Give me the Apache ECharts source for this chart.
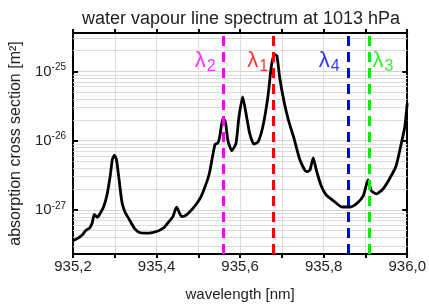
<!DOCTYPE html>
<html>
<head>
<meta charset="utf-8">
<script src="https://cdn.jsdelivr.net/npm/echarts@6/dist/echarts.min.js"></script>
<style>
    html, body {margin: 0; padding: 0; background: #fff;}
    #chartDIV {width: 429px; height: 307px;}
</style>
</head>
<body>
<div id="chartDIV"></div>
<script>
// wavelength [nm]
var wavelengths = [
    935.200, 935.212, 935.223, 935.230, 935.240, 935.246, 935.251, 935.258, 935.265, 935.273,
    935.281, 935.289, 935.294, 935.299, 935.304, 935.310, 935.317, 935.324, 935.335, 935.347,
    935.359, 935.374, 935.390, 935.405, 935.417, 935.429, 935.439, 935.448, 935.460, 935.471,
    935.487, 935.503, 935.514, 935.526, 935.534, 935.540, 935.547, 935.551, 935.559, 935.565,
    935.571, 935.580, 935.590, 935.597, 935.606, 935.615, 935.623, 935.633, 935.643, 935.654,
    935.666, 935.675, 935.682, 935.688, 935.695, 935.705, 935.716, 935.728, 935.743, 935.759,
    935.767, 935.775, 935.782, 935.794, 935.806, 935.825, 935.844, 935.864, 935.879, 935.895,
    935.906, 935.914, 935.926, 935.942, 935.957, 935.973, 935.984, 935.994, 936.000
];
// absorption cross section [m^2]
var crossSection = [
    3.6e-28, 3.9e-28, 4.4e-28, 5.0e-28, 5.5e-28, 6.5e-28, 8.6e-28, 7.8e-28, 8.9e-28, 1.10e-27,
    1.61e-27, 3.1e-27, 5.3e-27, 6.2e-27, 5.3e-27, 2.8e-27, 1.30e-27, 9.4e-28, 7.2e-28, 5.4e-28,
    4.7e-28, 4.6e-28, 4.7e-28, 5.0e-28, 5.5e-28, 6.7e-28, 8.0e-28, 1.09e-27, 8.0e-28, 8.4e-28,
    1.05e-27, 1.42e-27, 2.0e-27, 3.3e-27, 5.9e-27, 8.8e-27, 9.3e-27, 1.13e-26, 2.14e-26, 1.83e-26,
    9.9e-27, 7.2e-27, 9.1e-27, 2.16e-26, 4.3e-26, 2.3e-26, 1.26e-26, 8.9e-27, 9.6e-27, 1.56e-26,
    4.1e-26, 1.22e-25, 1.77e-25, 1.68e-25, 7.9e-26, 3.7e-26, 1.94e-26, 1.13e-26, 5.3e-27, 3.56e-27,
    3.74e-27, 5.65e-27, 3.83e-27, 2.23e-27, 1.64e-27, 1.33e-27, 1.10e-27, 1.10e-27, 1.23e-27, 1.61e-27,
    2.7e-27, 1.89e-27, 1.70e-27, 2.0e-27, 2.77e-27, 4.27e-27, 8.15e-27, 1.56e-26, 3.5e-26
];
// laser wavelengths
var lambdaNames = ['2', '1', '4', '3'];
var lambdaPositions = [935.558, 935.684, 935.855, 935.907];
// y range [m^2] and decades of the log grid
var yMin = 2.3e-28;
var yMax = 3.6e-25;
var decades = [1e-28, 1e-27, 1e-26, 1e-25];

var lambdaColors = ['#ff00ff', '#ff0000', '#0000ff', '#00ee00'];

// the y axis is a value axis on log10 of the cross section
// (ECharts 6 log axis does not cope with values around 1e-28)
function lg(v) {
    return Math.log(v) / Math.LN10;
}

var minorGrid = [];
decades.forEach(function (d) {
    for (var k = 2; k <= 9; k++) {
        if (k * d > yMin && k * d < yMax) {
            minorGrid.push(lg(k * d));
        }
    }
});

var spectrum = wavelengths.map(function (w, i) {
    return [w, lg(crossSection[i])];
});

var myChart = echarts.init(document.getElementById('chartDIV'));

var yLabel = {
    margin: 7,
    color: '#222',
    showMinLabel: false,
    showMaxLabel: false,
    formatter: function (v) {
        if (Math.abs(v - Math.round(v)) > 1e-6) {
            return '';
        }
        return '{b|10}{s|' + Math.round(v) + '}';
    },
    rich: {
        b: {fontSize: 15, color: '#222'},
        s: {fontSize: 10, color: '#222', padding: [0, 0, 8, 0]}
    }
};

var option = {
    animation: false,
    textStyle: {fontFamily: 'Liberation Sans'},
    title: {
        text: 'water vapour line spectrum at 1013 hPa',
        left: 236,
        top: 5,
        textAlign: 'center',
        textStyle: {fontSize: 18, fontWeight: 'normal', color: '#222'}
    },
    grid: {left: 67, right: 18, top: 33, bottom: 47},
    xAxis: [
        {
            type: 'value',
            min: 935.2,
            max: 936.0,
            interval: 0.2,
            name: 'wavelength [nm]',
            nameLocation: 'middle',
            nameGap: 33,
            nameTextStyle: {fontSize: 15, color: '#222'},
            axisLine: {lineStyle: {color: '#000', width: 2}},
            axisTick: {length: 4, lineStyle: {color: '#000', width: 2}},
            minorTick: {show: true, splitNumber: 2, length: 4, lineStyle: {color: '#000', width: 2}},
            axisLabel: {
                fontSize: 15, color: '#222', margin: 5,
                formatter: function (v) {
                    return v.toFixed(1).replace('.', ',');
                }
            },
            splitLine: {show: true, lineStyle: {color: '#dcdcdc'}},
            minorSplitLine: {show: true, lineStyle: {color: '#dcdcdc'}}
        },
        {
            type: 'value',
            position: 'top',
            min: 935.2,
            max: 936.0,
            interval: 0.2,
            axisLine: {lineStyle: {color: '#000', width: 2}},
            axisTick: {length: 4, lineStyle: {color: '#000', width: 2}},
            minorTick: {show: true, splitNumber: 2, length: 4, lineStyle: {color: '#000', width: 2}},
            axisLabel: {show: false},
            splitLine: {show: false}
        }
    ],
    yAxis: [
        {
            type: 'value',
            min: lg(yMin),
            max: lg(yMax),
            splitNumber: 3,
            name: 'absorption cross section [m²]',
            nameLocation: 'middle',
            nameGap: 47,
            nameTextStyle: {fontSize: 16, color: '#222'},
            axisLine: {lineStyle: {color: '#000', width: 2}},
            axisTick: {inside: true, length: 5, lineStyle: {color: '#000', width: 2}},
            axisLabel: yLabel,
            splitLine: {show: true, lineStyle: {color: '#d4d4d4'}}
        },
        {
            type: 'value',
            min: lg(yMin),
            max: lg(yMax),
            splitNumber: 3,
            position: 'right',
            axisLine: {show: true, lineStyle: {color: '#000', width: 2}},
            axisTick: {inside: true, length: 5, lineStyle: {color: '#000', width: 2}},
            axisLabel: {show: false},
            splitLine: {show: false}
        }
    ],
    series: [
        {
            name: 'grid',
            type: 'line',
            data: spectrum,
            z: 1,
            silent: true,
            showSymbol: false,
            lineStyle: {opacity: 0},
            markLine: {
                silent: true,
                z: 1,
                symbol: 'none',
                label: {show: false},
                lineStyle: {color: '#dcdcdc', width: 1, type: 'solid'},
                data: minorGrid.map(function (v) {
                    return {yAxis: v};
                })
            }
        },
        {
            name: 'spectrum',
            type: 'line',
            z: 3,
            showSymbol: false,
            smooth: 0.2,
            lineStyle: {color: '#000', width: 2.8},
            data: spectrum
        },
        {
            name: 'lasers',
            type: 'line',
            xAxisIndex: 1,
            yAxisIndex: 1,
            data: spectrum,
            z: 4,
            silent: true,
            showSymbol: false,
            lineStyle: {opacity: 0},
            markLine: {
                silent: true,
                z: 6,
                symbol: 'none',
                label: {show: false},
                data: lambdaPositions.map(function (w, i) {
                    return {
                        xAxis: w,
                        lineStyle: {color: lambdaColors[i], width: 3, type: [10, 6]}
                    };
                })
            }
        },
        {
            name: 'laser labels',
            type: 'scatter',
            symbolSize: 0,
            z: 7,
            data: lambdaPositions.map(function (w, i) {
                return {
                    value: [w, lg(1.4e-25)],
                    label: {
                        show: true,
                        position: i === 3 ? 'right' : 'left',
                        distance: i === 3 ? 4 : 7,
                        formatter: '{l|λ}{n|' + lambdaNames[i] + '}',
                        rich: {
                            l: {fontSize: 22, color: lambdaColors[i]},
                            n: {fontSize: 16, color: lambdaColors[i], padding: [10, 0, 0, 1]}
                        }
                    }
                };
            })
        }
    ]
};

myChart.setOption(option);
</script>
</body>
</html>
